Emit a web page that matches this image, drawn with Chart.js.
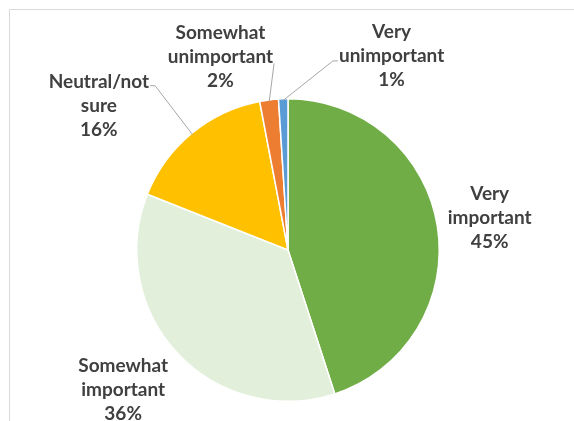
<!DOCTYPE html>
<html>
<head>
<meta charset="utf-8">
<script src="https://cdn.jsdelivr.net/npm/chart.js@4.4.0/dist/chart.umd.min.js"></script>
<style>
  body { margin: 0; background: #fff; }
  #wrap { width: 574px; height: 421px; }
</style>
</head>
<body>
<div id="wrap"><canvas id="pieChart" width="574" height="421"></canvas></div>
<script>
// data
const categories = ['Very important', 'Somewhat important', 'Neutral/not sure', 'Somewhat unimportant', 'Very unimportant'];
const shares = [45, 36, 16, 2, 1];
const sliceColors = ['#70AD47', '#E2EFDA', '#FFC000', '#ED7D31', '#5B9BD5'];

// label layout: nudge from the point at 1.35 x radius on the slice mid angle
const labelNudge = [[0, 0], [-16, 0], [-59, 13], [-42, 9], [110, 10]];
// leader lines: null = none, otherwise which side / line of the label it starts from
const leaders = [null, null, { side: 'right', line: 0, stub: 5, dy: 4 }, { side: 'right', line: 1, stub: 0, dy: 7 }, { side: 'left', line: 1, stub: 5, dy: 5 }];

const FONT = 'bold 19px Lato';
const LINE_H = 24;

const frame = {
  id: 'frame',
  beforeDraw(chart) {
    const c = chart.ctx;
    c.save();
    c.strokeStyle = '#d9d9d9';
    c.lineWidth = 1;
    c.beginPath();
    c.moveTo(9.5, chart.height);
    c.lineTo(9.5, 9.5);
    c.lineTo(chart.width, 9.5);
    c.stroke();
    c.restore();
  }
};

const outsideLabels = {
  id: 'outsideLabels',
  afterDraw(chart) {
    const c = chart.ctx;
    const meta = chart.getDatasetMeta(0);
    const total = shares.reduce((a, b) => a + b, 0);
    c.save();
    c.font = FONT;
    c.fillStyle = '#404040';
    c.textAlign = 'center';
    c.textBaseline = 'middle';
    meta.data.forEach(function (arc, i) {
      const p = arc.getProps(['x', 'y', 'startAngle', 'endAngle', 'outerRadius'], true);
      const mid = (p.startAngle + p.endAngle) / 2;
      const lx = p.x + Math.cos(mid) * p.outerRadius * 1.35 + labelNudge[i][0];
      const ly = p.y + Math.sin(mid) * p.outerRadius * 1.35 + labelNudge[i][1];
      const name = categories[i];
      const sp = name.indexOf(' ');
      const lines = [name.slice(0, sp), name.slice(sp + 1), Math.round(shares[i] / total * 100) + '%'];
      const top = ly - LINE_H;
      lines.forEach(function (t, k) {
        c.fillText(t, lx, top + k * LINE_H);
      });

      const ld = leaders[i];
      if (ld) {
        const w = c.measureText(lines[ld.line]).width;
        const sx = ld.side === 'right' ? lx + w / 2 + 1 : lx - w / 2 - 1;
        const sy = top + ld.line * LINE_H + ld.dy;
        const ex = sx + (ld.side === 'right' ? ld.stub : -ld.stub);
        const tx = p.x + Math.cos(mid) * p.outerRadius * 0.99;
        const ty = p.y + Math.sin(mid) * p.outerRadius * 0.99;
        c.save();
        c.strokeStyle = '#a6a6a6';
        c.lineWidth = 1;
        c.beginPath();
        c.moveTo(sx, sy);
        c.lineTo(ex, sy);
        c.lineTo(tx, ty);
        c.stroke();
        c.restore();
      }
    });
    c.restore();
  }
};

new Chart('pieChart', {
  type: 'pie',
  data: {
    labels: categories,
    datasets: [{
      data: shares,
      backgroundColor: sliceColors,
      borderColor: '#ffffff',
      borderWidth: 1.5
    }]
  },
  options: {
    responsive: false,
    animation: false,
    layout: { padding: { top: 98, bottom: 19, left: 136, right: 134 } },
    plugins: {
      legend: { display: false },
      tooltip: { enabled: false }
    }
  },
  plugins: [frame, outsideLabels]
});
</script>
</body>
</html>
